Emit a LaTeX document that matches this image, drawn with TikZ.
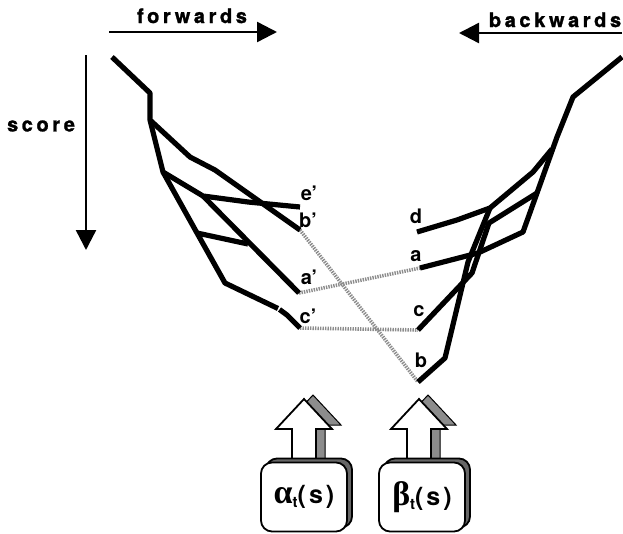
\documentclass[tikz,border=0pt]{standalone}
\usepackage{fontspec}
\setmainfont{TeX Gyre Heros}
\newfontfamily\spaced[LetterSpace=18,FakeBold=1.2]{TeX Gyre Heros}
\newfontfamily\parfont[LetterSpace=12]{TeX Gyre Heros}
\newfontfamily\greekfont{Liberation Serif}
\usetikzlibrary{arrows.meta,shadows}
\tikzset{
  tree/.style={line width=5.2pt, line join=round},
  hyp/.style={line width=3.6pt, draw=black!45, dash pattern=on 1.4pt off 1.1pt},
  axis/.style={line width=2.4pt, -{Triangle[length=20pt,width=20pt]}},
  ttl/.style={font=\spaced\bfseries\fontsize{20}{20}\selectfont, inner sep=0pt},
  lbl/.style={font=\bfseries\fontsize{20}{20}\selectfont, inner sep=0pt},
  boxstyle/.style={draw=black, line width=1.8pt, fill=white, rounded corners=11pt,
    minimum width=86pt, minimum height=69pt, inner sep=0pt,
    general shadow={shadow xshift=5pt, shadow yshift=4pt, fill=black!60, draw=black}},
  fatarrow/.pic={
    \filldraw[fill=black!45, draw=black, line width=1pt, shift={(9,-4)}]
      (-12,0) -- (-12,-37) -- (-28,-37) -- (0,-67) -- (28,-37) -- (12,-37) -- (12,0) -- cycle;
    \filldraw[fill=white, draw=black, line width=1.8pt]
      (-12,0) -- (-12,-37) -- (-28,-37) -- (0,-67) -- (28,-37) -- (12,-37) -- (12,0) -- cycle;
  }
}
\begin{document}
\begin{tikzpicture}[x=1pt,y=-1pt]
\useasboundingbox (0,0) rectangle (623,533);
% axes
\node[ttl, anchor=base] (fw) at (192,23) {forwards};
\node[ttl, anchor=base] (bw) at (555,27) {backwards};
\node[ttl] (sc) at (41,126) {score};
\coordinate (fwS) at (109,32); \coordinate (fwE) at (277,32);
\coordinate (bwS) at (622,33); \coordinate (bwE) at (459,33);
\coordinate (scS) at (86,55);  \coordinate (scE) at (86,250);
\draw[axis] (fwS) -- (fwE);
\draw[axis] (bwS) -- (bwE);
\draw[axis] (scS) -- (scE);
% left tree coordinates
\coordinate (L0) at (112,57);
\coordinate (L1) at (150,93);
\coordinate (L2) at (150,120);
\coordinate (L3) at (190,157);
\coordinate (L4) at (215,170);
\coordinate (Lb) at (300,230);
\coordinate (L5) at (163,172);
\coordinate (L6) at (203,196);
\coordinate (L7) at (248,202);
\coordinate (Le) at (300,207);
\coordinate (La) at (299,293);
\coordinate (L8) at (197,233);
\coordinate (L9) at (248,244);
\coordinate (L10) at (225,283);
\coordinate (L11) at (278,308.5);
\coordinate (L12) at (279.5,309.5);
\coordinate (L13) at (287,315);
\coordinate (Lc) at (300,328);
% right tree coordinates
\coordinate (R0) at (622,57);
\coordinate (R1) at (573,97);
\coordinate (R2) at (557,137);
\coordinate (R2b) at (552,149);
\coordinate (R3) at (537,193);
\coordinate (R4) at (523,232);
\coordinate (R5) at (478,253);
\coordinate (Ra) at (420,268);
\coordinate (R6) at (533,172);
\coordinate (R7) at (490,208);
\coordinate (R8) at (457,220);
\coordinate (Rd) at (417,232);
\coordinate (R9) at (468,262);
\coordinate (R10) at (445,358);
\coordinate (Rb) at (418,382);
\coordinate (R11) at (489,223);
\coordinate (R12) at (472,273);
\coordinate (Rc) at (418,330);
% dotted links
\draw[hyp] (Lb) -- (Rb);
\draw[hyp] (La) -- (Ra);
\draw[hyp] (Lc) -- (Rc);
% left tree
\draw[tree] (L0) -- (L1) -- (L2) -- (L3) -- (L4) -- (Lb);
\draw[tree] (L2) -- (L5) -- (L6) -- (L7) -- (Le);
\draw[tree] (L6) -- (La);
\draw[tree] (L5) -- (L8) -- (L10) -- (L11);
\draw[tree] (L12) -- (L13) -- (Lc);
\draw[tree] (L8) -- (L9);
% right tree
\draw[tree] (R0) -- (R1) -- (R2) -- (R3) -- (R4) -- (R5) -- (Ra);
\draw[tree] (R2b) -- (R6) -- (R7) -- (R8) -- (Rd);
\draw[tree] (R7) -- (R9) -- (R10) -- (Rb);
\draw[tree] (R3) -- (R11) -- (R12) -- (Rc);
% labels
\node[lbl] (le) at (309,193) {e'};
\node[lbl] (lb) at (308,220) {b'};
\node[lbl] (la) at (309,277) {a'};
\node[lbl] (lc) at (308,316) {c'};
\node[lbl] (rd) at (416,216) {d};
\node[lbl] (ra) at (416,256) {a};
\node[lbl] (rc) at (419,311) {c};
\node[lbl] (rb) at (421,360) {b};
% bottom arrows and boxes
\pic at (304,466) {fatarrow};
\pic at (419,466) {fatarrow};
\node[boxstyle] (alpha) at (304,497) {{\greekfont\bfseries\fontsize{34}{34}\selectfont α}\raisebox{-4pt}{\bfseries\fontsize{15}{15}\selectfont t}{\parfont\bfseries\fontsize{25}{25}\selectfont(s)}};
\node[boxstyle] (beta) at (422,497) {{\greekfont\bfseries\fontsize{34}{34}\selectfont β}\raisebox{-4pt}{\bfseries\fontsize{15}{15}\selectfont t}{\parfont\bfseries\fontsize{25}{25}\selectfont(s)}};
\end{tikzpicture}
\end{document}
